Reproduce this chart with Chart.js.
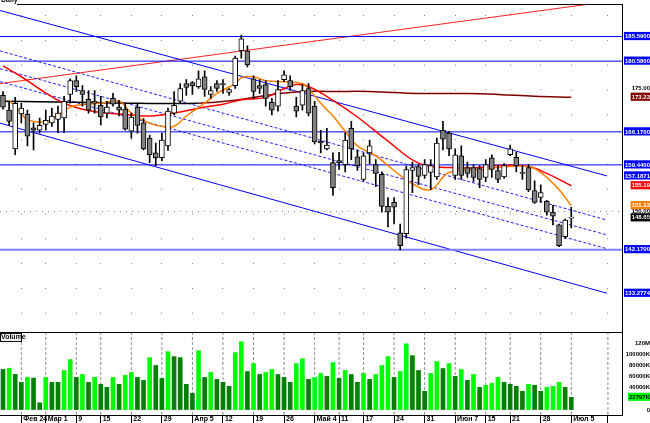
<!DOCTYPE html>
<html>
<head>
<meta charset="utf-8">
<script src="https://cdn.jsdelivr.net/npm/chart.js@4"></script>
<style>
html, body { margin: 0; padding: 0; background: #fff; }
</style>
</head>
<body>
<canvas id="chart" width="650" height="423"></canvas>
<script>
// daily candles
var openP = [173.6,170.6,162.7,169.8,169.8,167.0,166.5,167.7,168.0,168.7,
  169.0,173.8,176.6,174.6,172.8,172.0,171.6,170.0,173.0,171.2,
  170.8,166.3,171.2,168.0,164.9,161.9,160.9,163.3,170.0,172.4,
  176.0,176.2,175.4,177.4,173.8,176.0,176.0,174.2,175.6,182.7,
  182.7,177.0,175.6,175.8,172.2,171.4,176.8,176.6,171.4,171.6,
  175.0,171.4,164.3,162.7,159.9,160.3,159.5,166.9,161.1,156.5,
  161.9,159.5,157.5,151.0,151.8,145.6,145.4,158.3,159.1,157.3,
  157.9,157.0,166.5,165.9,157.3,161.3,158.9,158.9,158.7,156.9,
  160.9,158.3,157.0,161.5,161.0,157.9,158.9,154.2,152.8,152.0,
  149.8,147.2,144.8,148.6]
var highP = [174.4,172.4,173.2,172.0,170.6,168.0,169.0,170.6,171.0,171.4,
  173.4,177.0,177.6,175.6,174.6,174.6,173.4,172.4,174.0,172.6,
  172.0,170.0,172.0,168.9,165.5,163.9,165.9,171.0,174.4,176.0,
  176.8,176.4,178.6,178.6,175.4,176.6,176.8,175.0,181.6,185.9,
  183.7,177.6,176.8,176.6,173.0,176.6,178.6,177.6,173.2,175.8,
  176.0,172.4,166.5,166.9,161.9,162.0,166.0,168.3,162.5,161.9,
  164.5,160.5,158.0,152.8,152.8,147.4,159.2,160.0,159.5,160.5,
  160.5,164.9,168.3,166.3,162.7,163.3,160.0,159.5,159.3,160.5,
  161.5,159.3,159.7,163.5,162.0,159.3,159.5,156.2,155.4,152.2,
  151.2,147.4,148.4,150.8]
var lowP = [170.8,167.5,161.5,168.0,163.3,162.5,165.9,166.5,167.3,166.0,
  166.0,172.0,174.4,171.4,170.0,170.0,167.6,169.0,171.4,169.4,
  166.5,164.9,165.9,162.5,159.9,159.3,160.3,162.4,169.6,172.0,
  173.6,173.8,175.0,173.4,173.0,174.4,174.0,173.6,175.0,181.2,
  179.4,173.0,174.0,171.4,169.6,170.4,176.4,174.6,169.2,170.6,
  169.4,163.7,161.9,162.5,153.2,158.5,158.0,160.5,158.3,156.2,
  159.7,155.0,149.8,146.8,147.4,142.1,144.5,153.8,155.4,156.7,
  154.4,156.5,162.5,161.3,156.5,156.5,156.9,156.0,154.8,156.0,
  156.9,155.8,156.7,161.3,158.0,156.5,154.0,151.6,151.8,149.2,
  147.2,142.8,144.4,146.6]
var closeP = [171.2,168.3,172.0,171.0,165.3,166.5,167.5,168.5,169.4,170.0,
  172.4,176.6,175.4,173.8,170.6,172.4,169.2,171.2,171.8,170.6,
  166.7,169.2,167.5,162.7,161.5,160.9,164.5,170.4,171.6,175.0,
  175.2,175.6,177.0,174.8,174.6,175.0,175.8,174.8,181.2,185.1,
  179.8,174.4,175.0,173.0,170.6,174.8,177.8,175.4,170.4,174.6,
  170.0,164.1,163.9,163.5,154.8,159.9,164.5,162.7,159.3,161.3,
  163.3,157.7,151.0,149.8,150.8,143.0,158.5,158.9,157.1,159.5,
  159.3,163.9,164.7,162.7,161.5,157.3,157.7,156.9,156.5,159.5,
  158.5,156.5,159.3,162.7,159.3,157.7,154.4,151.8,153.8,149.8,
  149.0,143.0,148.2,148.65]
// volume in millions
var volume = [72.6,74.9,63.7,49.6,58.4,57.2,12.9,58.4,49.6,49.6,
  70.8,90.3,58.4,63.7,49.6,58.4,46.0,40.7,58.4,46.0,
  62.0,67.3,58.4,53.1,93.8,79.7,56.6,104.4,95.6,93.8,
  46.0,30.1,106.2,58.4,67.3,54.9,49.6,42.5,102.7,122.1,
  69.0,83.2,63.7,67.3,72.6,63.7,58.4,49.6,83.2,92.0,
  54.9,58.4,65.5,60.2,85.0,56.6,70.8,63.7,49.6,65.5,
  54.9,63.7,79.7,95.6,58.4,69.0,118.6,97.4,70.8,33.6,
  65.5,86.7,74.3,83.2,60.2,72.6,53.1,63.7,40.7,44.3,
  47.8,58.4,49.6,46.0,42.5,33.6,46.0,44.3,33.6,40.7,
  42.5,49.6,40.7,22.8]

// date ticks (bar index) and their labels
var tickIdx = [3, 7, 12, 16, 21, 26, 31, 36, 41, 46, 51, 55, 59, 64, 69, 74, 79, 83, 88, 93, 99]
var tickLabels = ['Фев 24', 'Мар 1', '9', '15', '22', '29', 'Апр 5', '12', '19', '26', 'Май 4', '11', '17', '24', '31', 'Июн 7', '15', '21', '28', 'Июл 5', '']

// moving averages (bar index -> price)
var maFastIdx = [1, 3, 4, 7, 9, 11, 12, 16, 19, 21, 24, 26, 28, 30, 33, 35, 38, 39, 41, 43, 46, 49, 50, 52, 54, 56, 58, 61, 63, 65, 67, 70, 73, 79, 81, 86, 88, 91, 93]
var maFastVal = [172.6, 170.0, 168.6, 168.3, 169.6, 171.2, 171.6, 172.0, 172.4, 170.0, 167.9, 167.3, 167.3, 169.4, 172.0, 174.0, 176.0, 177.2, 177.4, 176.6, 176.4, 176.0, 175.0, 172.0, 169.4, 166.3, 163.3, 161.3, 159.3, 157.3, 155.6, 154.4, 157.9, 158.5, 158.9, 159.1, 157.9, 154.4, 151.13]
var maMidIdx = [0, 3, 6, 10, 14, 17, 21, 24, 28, 32, 36, 39, 43, 46, 48, 50, 54, 58, 63, 68, 73, 78, 81, 86, 89, 93]
var maMidVal = [179.6, 177.4, 174.9, 172.0, 170.5, 170.0, 169.6, 169.4, 170.0, 171.0, 171.8, 172.7, 173.2, 175.0, 175.8, 175.4, 172.6, 169.2, 164.3, 159.8, 158.9, 158.9, 159.3, 159.1, 157.7, 155.19]
var maLongIdx = [0, 12, 22, 32, 38, 43, 49, 54, 60, 68, 76, 81, 87, 93]
var maLongVal = [172.4, 172.2, 172.0, 172.0, 172.6, 173.6, 174.4, 174.4, 174.4, 174.0, 174.0, 173.8, 173.4, 173.23]

// drawn lines: horizontal levels, channel and the rising red line
var levels = [185.59, 180.58, 166.17, 159.44]
var supportLevel = 142.17
var channelX = [-0.49, 98.85]
var channelTop = [190.9, 157.1871]
var channelA = [182.66, 148.19]
var channelB = [179.03, 145.16]
var channelC = [176.41, 142.34]
var channelBottom = [167.94, 133.2774]
var riseX = [-0.49, 95.6]
var riseY = [176.0, 192.14]

// labels on the price and volume axes
var priceMarks = [185.59, 180.58, 175, 173.23, 166.17, 159.44, 157.1871, 155.19, 151.13, 150, 148.65, 142.17, 133.2774]
var priceMarkLabels = ['185.5900', '180.5800', '175.00', '173.23', '166.1700', '159.4400', '157.1871', '155.19', '151.13', '150.00', '148.65', '142.1700', '133.2774']
var volMarks = [120, 100, 80, 60, 40, 22.797, 0]
var volMarkLabels = ['120M', '100000K', '80000K', '60000K', '40000K', '22797K', '0']

var priceMarkBg = ['#0000ff', '#0000ff', 'rgba(0,0,0,0)', '#800000', '#0000ff', '#0000ff', '#0000ff', '#ff0000', '#ff8000', 'rgba(0,0,0,0)', '#000000', '#0000ff', '#0000ff']
var priceMarkFg = ['#fff', '#fff', '#000', '#fff', '#fff', '#fff', '#fff', '#fff', '#fff', '#000', '#fff', '#fff', '#fff']

var FONT = "'Liberation Sans', Arial, sans-serif"
var X_MIN = -0.49, X_MAX = 101.3
var P_MIN = 125.2, P_MAX = 192.1
var V_MIN = -8.85, V_MAX = 138

function pts(xs, ys) {
  return xs.map(function (x, i) { return { x: x, y: ys[i] } })
}
function lineSet(data, color, width, dash, order, axis) {
  return {
    type: 'line', data: data, yAxisID: axis || 'y', borderColor: color, borderWidth: width,
    borderDash: dash || [], pointRadius: 0, fill: false, tension: 0, order: order
  }
}

var bodies = openP.map(function (o, i) { return { x: i, y: [o, closeP[i]] } })
var wicks = lowP.map(function (l, i) { return { x: i, y: [l, highP[i]] } })
var bodyColors = openP.map(function (o, i) { return closeP[i] >= o ? '#ffffff' : '#808080' })
var volColors = volume.map(function (v, i) { return i > 0 && v > volume[i - 1] ? '#00ff00' : '#008000' })

var datasets = [
  { type: 'bar', data: bodies, yAxisID: 'y', backgroundColor: bodyColors, borderColor: '#000', borderWidth: 1,
    borderSkipped: false, barThickness: 5, minBarLength: 1, grouped: false, order: 0 },
  { type: 'bar', data: wicks, yAxisID: 'y', backgroundColor: '#000', barThickness: 1, grouped: false, order: 1 },
  { type: 'bar', data: volume.map(function (v, i) { return { x: i, y: v } }), yAxisID: 'yv',
    backgroundColor: volColors, barThickness: 4, grouped: false, order: 0 }
]
var fast = lineSet(pts(maFastIdx, maFastVal), '#ff8000', 1.5, null, 2)
fast.tension = 0.4
var mid = lineSet(pts(maMidIdx, maMidVal), '#ff0000', 1.5, null, 2)
mid.tension = 0.4
var slow = lineSet(pts(maLongIdx, maLongVal), '#800000', 1.5, null, 2)
slow.tension = 0.4
slow.segment = { borderColor: function (c) { return c.p0.parsed.x < 26 ? '#000000' : '#800000' } }
datasets.push(fast, mid, slow)
levels.forEach(function (v) {
  datasets.push(lineSet(pts([X_MIN, X_MAX], [v, v]), '#0000ff', 1, null, 3))
})
datasets.push(lineSet(pts([X_MIN, X_MAX], [supportLevel, supportLevel]), '#8080ff', 2, null, 3))
datasets.push(lineSet(pts(channelX, channelTop), '#0000ff', 1, null, 3))
datasets.push(lineSet(pts(channelX, channelBottom), '#0000ff', 1, null, 3))
datasets.push(lineSet(pts(channelX, channelA), '#2020ff', 1, [3, 2], 3))
datasets.push(lineSet(pts(channelX, channelB), '#2020ff', 1, [3, 2], 3))
datasets.push(lineSet(pts(channelX, channelC), '#2020ff', 1, [3, 2], 3))
datasets.push(lineSet(pts(riseX, riseY), '#ff2020', 1, null, 3))
// week separators of the volume panel
tickIdx.forEach(function (t) {
  datasets.push(lineSet(pts([t, t], [V_MIN, V_MAX]), '#909090', 1, [3, 2], 4, 'yv'))
})

function markIndex(list, v) {
  for (var i = 0; i < list.length; i++) if (Math.abs(list[i] - v) < 1e-6) return i
  return -1
}

// small captions of the two panels
var panelCaptions = {
  id: 'panelCaptions',
  afterDraw: function (chart) {
    var ctx = chart.ctx
    var top = chart.scales.yv.top
    ctx.save()
    ctx.font = 'bold 7px ' + FONT
    ctx.textBaseline = 'top'
    ctx.fillStyle = '#fff'
    ctx.fillRect(0, 0, 17, 5)
    ctx.fillStyle = '#000'
    ctx.fillText('Daily', 1, -3)
    ctx.fillStyle = '#fff'
    ctx.fillRect(0, top + 1, 21, 8)
    ctx.strokeStyle = '#000'
    ctx.lineWidth = 1
    ctx.strokeRect(0.5, top + 0.5, 21, 8)
    ctx.fillStyle = '#000'
    ctx.fillText('Volume', 1, top + 1)
    ctx.restore()
  }
}

new Chart(document.getElementById('chart'), {
  type: 'bar',
  data: { datasets: datasets },
  plugins: [panelCaptions],
  options: {
    responsive: false,
    animation: false,
    layout: { padding: 0 },
    plugins: { legend: { display: false }, tooltip: { enabled: false } },
    scales: {
      x: {
        type: 'linear', min: X_MIN, max: X_MAX, offset: false,
        afterFit: function (s) { s.height = 8 },
        afterBuildTicks: function (s) { s.ticks = tickIdx.map(function (v) { return { value: v } }) },
        ticks: {
          autoSkip: false, maxRotation: 0, minRotation: 0, align: 'start', padding: -8,
          color: '#000', font: { family: FONT, size: 7, weight: 'bold' },
          callback: function (v, i) { return ' ' + tickLabels[i] }
        },
        grid: { offset: false, color: '#808080', lineWidth: 1, drawTicks: true, tickLength: 8, tickColor: '#000', tickWidth: 1, tickBorderDash: [] },
        border: { display: true, color: '#000', dash: [1, 23.81], dashOffset: 14.37 }
      },
      y: {
        type: 'linear', position: 'right', stack: 'panels', stackWeight: 332, min: P_MIN, max: P_MAX,
        afterFit: function (s) { s.width = 28 },
        afterBuildTicks: function (s) {
          s.ticks = [P_MAX].concat(priceMarks).map(function (v) { return { value: v } })
        },
        ticks: {
          autoSkip: false, padding: 1, crossAlign: 'far', font: { family: FONT, size: 6, weight: 'bold' },
          showLabelBackdrop: true, backdropPadding: { top: 1, bottom: 0, left: 1, right: 1 },
          color: function (c) { var k = markIndex(priceMarks, c.tick.value); return k < 0 ? '#000' : priceMarkFg[k] },
          backdropColor: function (c) { var k = markIndex(priceMarks, c.tick.value); return k < 0 ? 'rgba(0,0,0,0)' : priceMarkBg[k] },
          callback: function (v) { var k = markIndex(priceMarks, v); return k < 0 ? '' : priceMarkLabels[k] }
        },
        grid: {
          drawTicks: false,
          color: function (c) {
            if (!c.tick) return 'rgba(0,0,0,0)'
            if (c.tick.value === P_MAX) return '#000'
            if (c.tick.value === 150) return '#808080'
            return 'rgba(0,0,0,0)'
          }
        },
        border: { color: '#000', dash: function (c) { return c.tick && c.tick.value === 150 ? [1, 5] : [] } }
      },
      yv: {
        type: 'linear', position: 'right', stack: 'panels', stackWeight: 83, min: V_MIN, max: V_MAX,
        afterFit: function (s) { s.width = 28 },
        afterBuildTicks: function (s) {
          s.ticks = [V_MAX].concat(volMarks).map(function (v) { return { value: v } })
        },
        ticks: {
          autoSkip: false, padding: 1, crossAlign: 'far', font: { family: FONT, size: 6, weight: 'bold' }, color: '#000',
          showLabelBackdrop: true, backdropPadding: { top: 1, bottom: 0, left: 1, right: 1 },
          backdropColor: function (c) { return c.tick.value === 22.797 ? '#00ff00' : 'rgba(0,0,0,0)' },
          callback: function (v) { var k = markIndex(volMarks, v); return k < 0 ? '' : volMarkLabels[k] }
        },
        grid: {
          drawTicks: false,
          color: function (c) { return c.tick && c.tick.value === V_MAX ? '#000' : 'rgba(0,0,0,0)' }
        },
        border: { color: '#000' }
      }
    }
  }
})
</script>
</body>
</html>
